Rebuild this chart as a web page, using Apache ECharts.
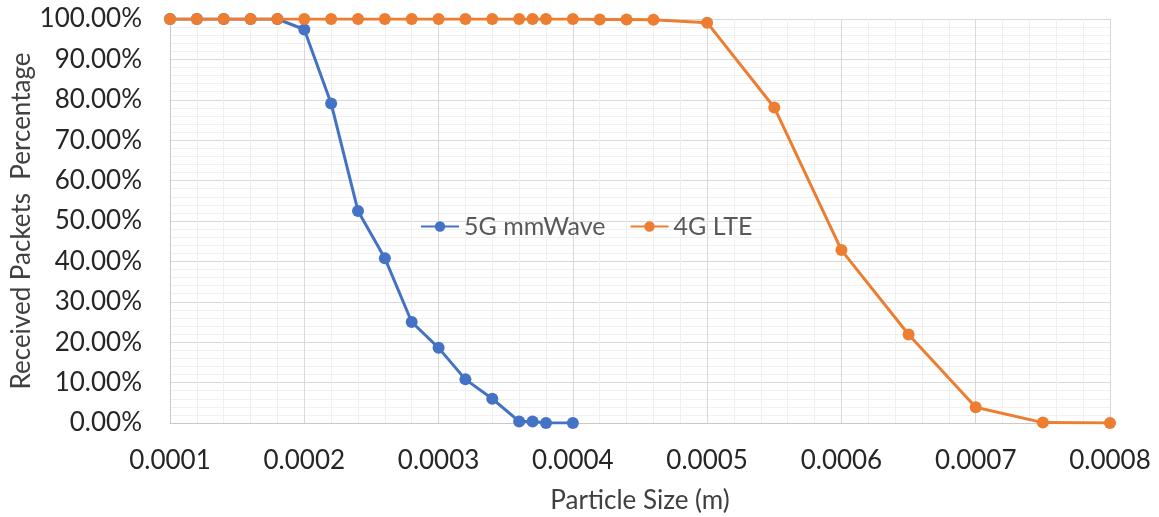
<!DOCTYPE html>
<html>
<head>
<meta charset="utf-8">
<script src="https://cdn.jsdelivr.net/npm/echarts@6/dist/echarts.min.js"></script>
<style>html,body{margin:0;padding:0;background:#fff}#c{width:1159px;height:517px}</style>
</head>
<body>
<div id="c"></div>
<script>
const seriesNames = ['5G mmWave', '4G LTE'];
const xTicks = [0.0001, 0.0002, 0.0003, 0.0004, 0.0005, 0.0006, 0.0007, 0.0008];
const x5G = [0.0001, 0.00012, 0.00014, 0.00016, 0.00018, 0.0002, 0.00022, 0.00024, 0.00026, 0.00028, 0.0003, 0.00032, 0.00034, 0.00036, 0.00037, 0.00038, 0.0004];
const y5G = [100, 100, 100, 100, 100, 97.4, 79.1, 52.5, 40.8, 25.0, 18.6, 10.8, 6.0, 0.4, 0.4, 0, 0];
const xLTE = [0.0001, 0.00012, 0.00014, 0.00016, 0.00018, 0.0002, 0.00022, 0.00024, 0.00026, 0.00028, 0.0003, 0.00032, 0.00034, 0.00036, 0.00037, 0.00038, 0.0004, 0.00042, 0.00044, 0.00046, 0.0005, 0.00055, 0.0006, 0.00065, 0.0007, 0.00075, 0.0008];
const yLTE = [100, 100, 100, 100, 100, 100, 100, 100, 100, 100, 100, 100, 100, 100, 100, 100, 100, 99.9, 99.9, 99.8, 99.1, 78.1, 42.8, 21.9, 3.9, 0.1, 0];

const FONT = 'Lato';
const chart = echarts.init(document.getElementById('c'), null, {renderer: 'canvas'});
chart.setOption({
  animation: false,
  backgroundColor: '#ffffff',
  color: ['#4472c4', '#ed7d31'],
  grid: {left: 170, right: 49, top: 19, bottom: 94, containLabel: false, outerBoundsMode: 'none'},
  legend: {
    data: seriesNames,
    left: 415, top: 209,
    itemWidth: 38, itemHeight: 13, itemGap: 24,
    textStyle: {fontFamily: FONT, fontSize: 25, color: '#595959'}
  },
  xAxis: {
    type: 'value', min: xTicks[0], max: xTicks[xTicks.length - 1], interval: 0.0001,
    name: 'Particle Size (m)', nameLocation: 'middle', nameGap: 65, nameMoveOverlap: false,
    nameTextStyle: {fontFamily: FONT, fontSize: 26, color: '#404040'},
    axisLine: {show: true, lineStyle: {color: '#c8c8c8', width: 1}},
    axisTick: {show: false},
    axisLabel: {fontFamily: FONT, fontSize: 26, color: '#262626', margin: 25,
      formatter: v => v.toFixed(4)},
    splitLine: {show: true, lineStyle: {color: '#d9d9d9', width: 1}},
    minorTick: {show: false, splitNumber: 5},
    minorSplitLine: {show: true, lineStyle: {color: '#f0f0f0', width: 1}}
  },
  yAxis: {
    type: 'value', min: 0, max: 100, interval: 10,
    name: 'Received Packets  Percentage', nameLocation: 'middle', nameGap: 135, nameMoveOverlap: false,
    nameTextStyle: {fontFamily: FONT, fontSize: 26, color: '#404040'},
    axisLine: {show: true, lineStyle: {color: '#c8c8c8', width: 1}},
    axisTick: {show: false},
    axisLabel: {fontFamily: FONT, fontSize: 26, color: '#262626', margin: 28,
      formatter: v => v.toFixed(2) + '%'},
    splitLine: {show: true, lineStyle: {color: '#d9d9d9', width: 1}},
    minorTick: {show: false, splitNumber: 5},
    minorSplitLine: {show: true, lineStyle: {color: '#f0f0f0', width: 1}}
  },
  series: [
    {
      name: seriesNames[0], type: 'line',
      data: x5G.map((x, i) => [x, y5G[i]]),
      symbol: 'circle', symbolSize: 12, showSymbol: true,
      lineStyle: {width: 3, color: '#4472c4'},
      itemStyle: {color: '#4472c4'}, z: 2
    },
    {
      name: seriesNames[1], type: 'line',
      data: xLTE.map((x, i) => [x, yLTE[i]]),
      symbol: 'circle', symbolSize: 12, showSymbol: true,
      lineStyle: {width: 3, color: '#ed7d31'},
      itemStyle: {color: '#ed7d31'}, z: 3
    }
  ]
});
</script>
</body>
</html>
